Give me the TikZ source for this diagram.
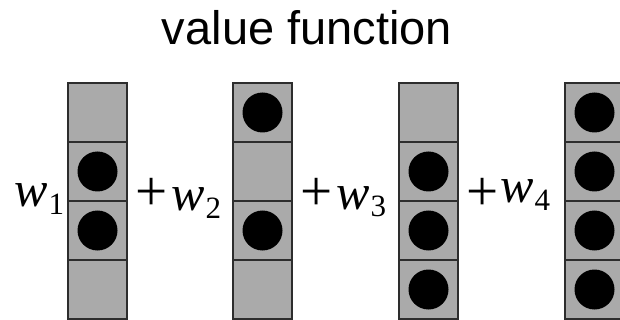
\documentclass[tikz,border=0pt]{standalone}
\usepackage{fontspec}
\setmainfont{Liberation Serif}
\newfontfamily\titlefont{Liberation Sans}
\definecolor{cellgray}{RGB}{170,170,170}
\definecolor{edgegray}{RGB}{45,45,45}
\tikzset{
  cell/.style={draw=edgegray, line width=1.3pt, fill=cellgray},
  dot/.style={fill=black},
  wlabel/.style={anchor=base west, inner sep=0pt, font=\fontsize{50}{50}\selectfont},
  pluslabel/.style={anchor=base, inner sep=0pt, font=\fontsize{57}{57}\selectfont},
}
\newcommand{\wsub}[1]{\textit{w}\kern1pt\raisebox{-8pt}{\fontsize{31}{31}\selectfont #1}}
\begin{document}
\begin{tikzpicture}[x=1pt,y=-1pt]
\useasboundingbox (0,0) rectangle (620,320);
\node[anchor=base, inner sep=0pt, font=\titlefont\fontsize{47}{47}\selectfont] (title) at (307,45) {value function};
% columns: x-left, pattern of filled cells
\foreach \c/\xl/\pat in {1/68/{0,1,1,0}, 2/233/{1,0,1,0}, 3/399/{0,1,1,1}, 4/565/{1,1,1,1}} {
  \foreach \f [count=\r] in \pat {
    \pgfmathsetmacro{\yt}{83+(\r-1)*59}
    \draw[cell] (\xl,\yt) rectangle ++(59,59);
    \ifnum\f=1
      \fill[dot] (\xl+29.5,\yt+29.5) circle (20);
    \fi
  }
}
\node[wlabel] (w1) at (14,207) {\wsub{1}};
\node[pluslabel] (p1) at (152,211) {+};
\node[wlabel] (w2) at (171,211) {\wsub{2}};
\node[pluslabel] (p2) at (317,211) {+};
\node[wlabel] (w3) at (336,209) {\wsub{3}};
\node[pluslabel] (p3) at (483,211) {+};
\node[wlabel] (w4) at (500,203) {\wsub{4}};
\end{tikzpicture}
\end{document}
